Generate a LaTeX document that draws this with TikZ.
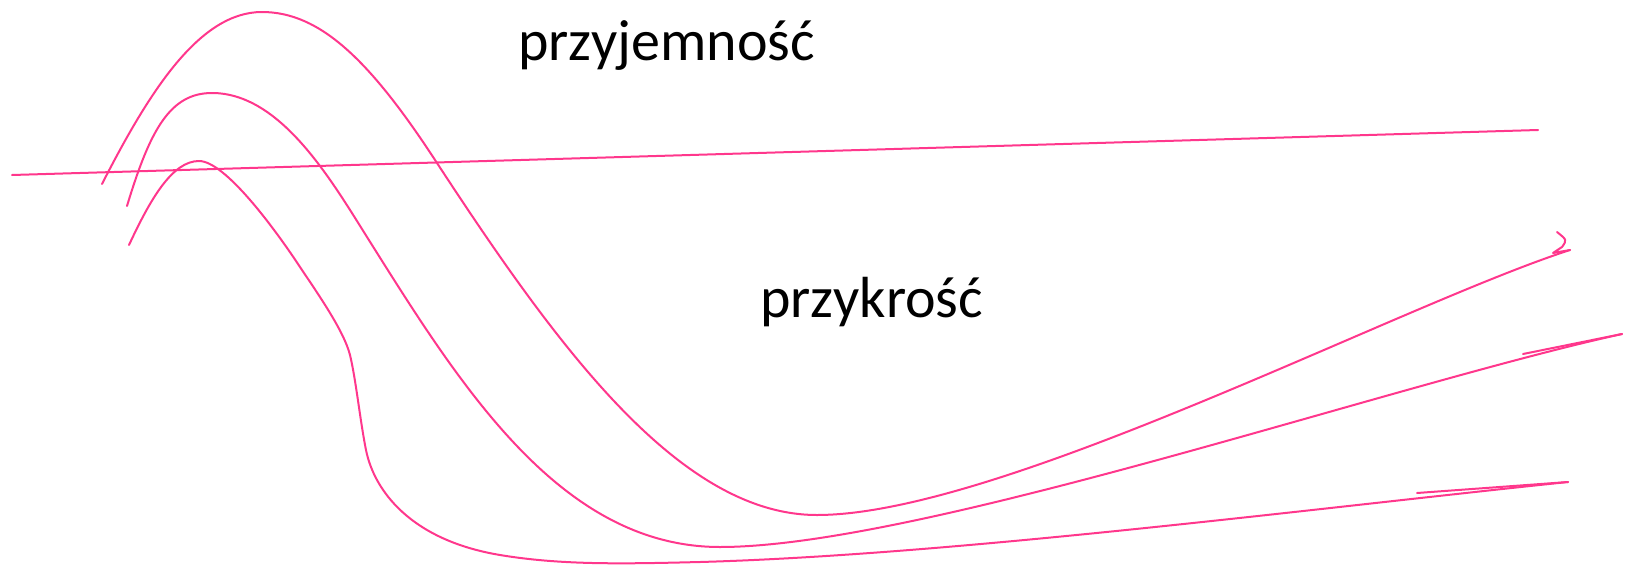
\documentclass[tikz,border=0pt]{standalone}
\usepackage{fontspec}
\setmainfont{Carlito}
\definecolor{pinkline}{RGB}{255,55,140}

\begin{document}
\begin{tikzpicture}[x=1pt,y=-1pt,
		curve/.style={draw=pinkline, line width=2pt, line cap=round, line join=round},
		label/.style={font=\fontsize{58}{64}\selectfont, anchor=base west, inner sep=0pt}]
		\useasboundingbox (0,0) rectangle (1628,565);
		\node[label] (pleasure) at (518,60) {przyjemność};
		\node[label] (pain) at (760,317) {przykrość};
		\draw [curve] (12,175)--(1538,130);
		% outer curve
		\draw [curve] (102,184) .. controls (150,90) and (200,12) .. (262,12)
			.. controls (320,12) and (370,60) .. (437,163)
			.. controls (558,348) and (680,515) .. (817,515)
			.. controls (1000,515) and (1400,305) .. (1570,250);
		\draw [curve] (1570,250)--(1553,253)--(1562,247) .. controls (1567,240) .. (1557,232);
		% middle curve
		\draw [curve] (127,206) .. controls (150,130) and (170,93) .. (212,93)
			.. controls (280,93) and (330,178) .. (367,237)
			.. controls (460,385) and (560,547) .. (720,547)
			.. controls (920,547) and (1390,385) .. (1622,334);
		\draw [curve] (1622,334)--(1523,354);
		% inner curve
		\draw [curve] (129,245) .. controls (150,200) and (172,161) .. (199,161)
			.. controls (225,161) and (275,229) .. (300,267)
			.. controls (318,294) and (344,331) .. (350,355)
			.. controls (356,380) and (360,420) .. (366,450)
			.. controls (374,490) and (410,540) .. (500,555)
			.. controls (560,565) and (620,564) .. (700,562)
			.. controls (950,555) and (1300,510) .. (1568,482);
		\draw [curve] (1568,482)--(1417,493);
	\end{tikzpicture}
\end{document}
